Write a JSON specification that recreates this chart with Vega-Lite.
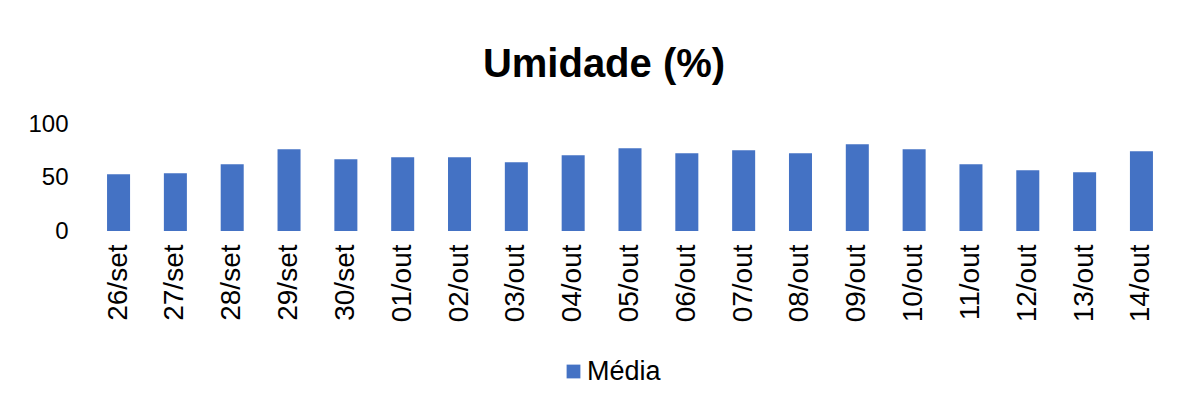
{
  "$schema": "https://vega.github.io/schema/vega-lite/v6.json",
  "autosize": {"type": "none"},
  "width": 1080,
  "height": 107,
  "padding": {"left": 90, "top": 124, "right": 29, "bottom": 179},
  "background": "white",
  "config": {
    "font": "Liberation Sans",
    "view": {"stroke": null},
    "axis": {"labelColor": "black", "labelFont": "Liberation Sans"},
    "legend": {"labelFont": "Liberation Sans", "labelColor": "black"}
  },
  "title": {
    "text": "Umidade (%)",
    "fontSize": 40,
    "fontWeight": "bold",
    "color": "black",
    "font": "Liberation Sans",
    "anchor": "middle",
    "dx": -26,
    "offset": 27
  },
  "data": {
    "values": [
      {"dia": "26/set", "umidade": 53.1, "serie": "Média"},
      {"dia": "27/set", "umidade": 54.0, "serie": "Média"},
      {"dia": "28/set", "umidade": 62.4, "serie": "Média"},
      {"dia": "29/set", "umidade": 76.4, "serie": "Média"},
      {"dia": "30/set", "umidade": 67.0, "serie": "Média"},
      {"dia": "01/out", "umidade": 68.9, "serie": "Média"},
      {"dia": "02/out", "umidade": 68.9, "serie": "Média"},
      {"dia": "03/out", "umidade": 64.2, "serie": "Média"},
      {"dia": "04/out", "umidade": 70.8, "serie": "Média"},
      {"dia": "05/out", "umidade": 77.3, "serie": "Média"},
      {"dia": "06/out", "umidade": 72.6, "serie": "Média"},
      {"dia": "07/out", "umidade": 75.4, "serie": "Média"},
      {"dia": "08/out", "umidade": 72.6, "serie": "Média"},
      {"dia": "09/out", "umidade": 81.0, "serie": "Média"},
      {"dia": "10/out", "umidade": 76.4, "serie": "Média"},
      {"dia": "11/out", "umidade": 62.4, "serie": "Média"},
      {"dia": "12/out", "umidade": 56.8, "serie": "Média"},
      {"dia": "13/out", "umidade": 54.9, "serie": "Média"},
      {"dia": "14/out", "umidade": 74.5, "serie": "Média"}
    ]
  },
  "mark": {"type": "bar"},
  "encoding": {
    "x": {
      "field": "dia",
      "type": "nominal",
      "sort": null,
      "scale": {"paddingInner": 0.595, "paddingOuter": 0.3},
      "axis": {
        "title": null,
        "labelAngle": 270,
        "labelFontSize": 28,
        "labelPadding": 13,
        "ticks": false,
        "domain": false
      }
    },
    "y": {
      "field": "umidade",
      "type": "quantitative",
      "scale": {"domain": [0, 100]},
      "axis": {
        "title": null,
        "values": [0, 50, 100],
        "labelFontSize": 24,
        "labelPadding": 22,
        "ticks": false,
        "domain": false,
        "grid": false
      }
    },
    "color": {
      "field": "serie",
      "type": "nominal",
      "scale": {"range": ["#4472C4"]},
      "legend": {
        "title": null,
        "orient": "none",
        "legendX": 470,
        "legendY": 234,
        "symbolType": "square",
        "symbolSize": 190,
        "symbolStrokeWidth": 0,
        "labelFontSize": 27,
        "labelOffset": 0
      }
    }
  }
}
